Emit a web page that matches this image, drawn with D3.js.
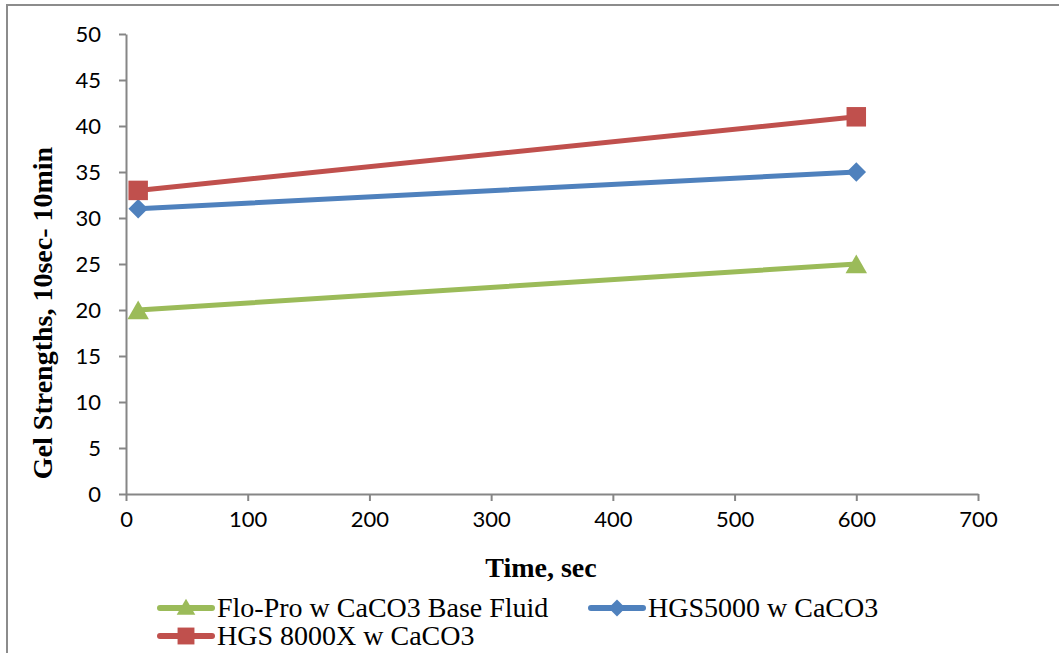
<!DOCTYPE html>
<html>
<head>
<meta charset="utf-8">
<script src="https://cdn.jsdelivr.net/npm/d3@7"></script>
<style>
    body { margin: 0; background: #fff; }
    svg { display: block; }
    .tick text { font-family: Lato, "Open Sans", sans-serif; font-size: 22px; fill: #000; }
    .axis path, .axis line { stroke: #868686; stroke-width: 2; }
</style>
</head>
<body>
<div id="chart"></div>
<script>
// Chart data
const times = [10, 600];
const seriesNames = ['Flo-Pro w CaCO3 Base Fluid', 'HGS5000 w CaCO3', 'HGS 8000X w CaCO3'];
const floProValues = [20, 25];
const hgs5000Values = [31, 35];
const hgs8000Values = [33, 41];
const xTicks = [0, 100, 200, 300, 400, 500, 600, 700];
const yTicks = [0, 5, 10, 15, 20, 25, 30, 35, 40, 45, 50];

const W = 1059, H = 653;
const margin = { top: 34, right: 81, bottom: 159, left: 126 };
const width = W - margin.left - margin.right;
const height = H - margin.top - margin.bottom;

// diamond drawn as a rotated square, like the spreadsheet marker
const diamond = {
    draw(context, size) {
        const r = Math.sqrt(size / 2);
        context.moveTo(0, -r);
        context.lineTo(r, 0);
        context.lineTo(0, r);
        context.lineTo(-r, 0);
        context.closePath();
    }
};

const series = [
    { name: seriesNames[0], values: floProValues, color: '#9BBB59', symbol: d3.symbolTriangle, size: 200, dy: 3 },
    { name: seriesNames[1], values: hgs5000Values, color: '#4F81BD', symbol: diamond, size: 190, dy: 0 },
    { name: seriesNames[2], values: hgs8000Values, color: '#C0504D', symbol: d3.symbolSquare, size: 380, dy: 0 }
];

const root = d3.select('#chart').append('svg')
    .attr('width', W)
    .attr('height', H);

// outer chart border (top + left visible)
root.append('path')
    .attr('d', `M7,${H} L7,5 L${W},5`)
    .attr('fill', 'none')
    .attr('stroke', '#8c8c8c')
    .attr('stroke-width', 2);

const svg = root.append('g')
    .attr('transform', `translate(${margin.left},${margin.top})`);

const x = d3.scaleLinear().domain([0, 700]).range([0, width]);
const y = d3.scaleLinear().domain([0, 50]).range([height, 0]);

svg.append('g')
    .attr('class', 'axis')
    .attr('transform', `translate(0,${height})`)
    .call(d3.axisBottom(x).tickValues(xTicks).tickSize(7).tickSizeOuter(0).tickPadding(10));

svg.append('g')
    .attr('class', 'axis')
    .call(d3.axisLeft(y).tickValues(yTicks).tickSize(7).tickSizeOuter(0).tickPadding(18));

// Axis titles
svg.append('text')
    .attr('x', 415)
    .attr('y', height + 83)
    .attr('text-anchor', 'middle')
    .style('font-family', '"Liberation Serif", serif')
    .style('font-weight', 'bold')
    .style('font-size', '28px')
    .text('Time, sec');

svg.append('text')
    .attr('transform', 'rotate(-90)')
    .attr('x', -(313 - margin.top))
    .attr('y', -74)
    .attr('text-anchor', 'middle')
    .style('font-family', '"Liberation Serif", serif')
    .style('font-weight', 'bold')
    .style('font-size', '28px')
    .text('Gel Strengths, 10sec- 10min');

// Lines and markers
const line = d3.line()
    .x((d, i) => x(times[i]))
    .y(d => y(d));

series.forEach(s => {
    svg.append('path')
        .datum(s.values)
        .attr('fill', 'none')
        .attr('stroke', s.color)
        .attr('stroke-width', 5)
        .attr('stroke-linecap', 'round')
        .attr('d', line);

    svg.selectAll(null)
        .data(s.values)
        .enter()
        .append('path')
        .attr('transform', (d, i) => `translate(${x(times[i])},${y(d) + s.dy})`)
        .attr('d', d3.symbol().type(s.symbol).size(s.size))
        .attr('fill', s.color);
});

// Legend
const legendPos = [
    { x: 160, y: 608 },
    { x: 591, y: 608 },
    { x: 160, y: 636 }
];

series.forEach((s, i) => {
    const g = root.append('g')
        .attr('transform', `translate(${legendPos[i].x},${legendPos[i].y})`);
    g.append('line')
        .attr('x1', 0).attr('x2', 52)
        .attr('stroke', s.color)
        .attr('stroke-width', 6)
        .attr('stroke-linecap', 'round');
    g.append('path')
        .attr('transform', `translate(26,${s.dy * 0.5})`)
        .attr('d', d3.symbol().type(s.symbol).size(s.size * 0.75))
        .attr('fill', s.color);
    g.append('text')
        .attr('x', 57)
        .attr('y', 9)
        .style('font-family', '"Liberation Serif", serif')
        .style('font-size', '28px')
        .text(s.name);
});
</script>
</body>
</html>
